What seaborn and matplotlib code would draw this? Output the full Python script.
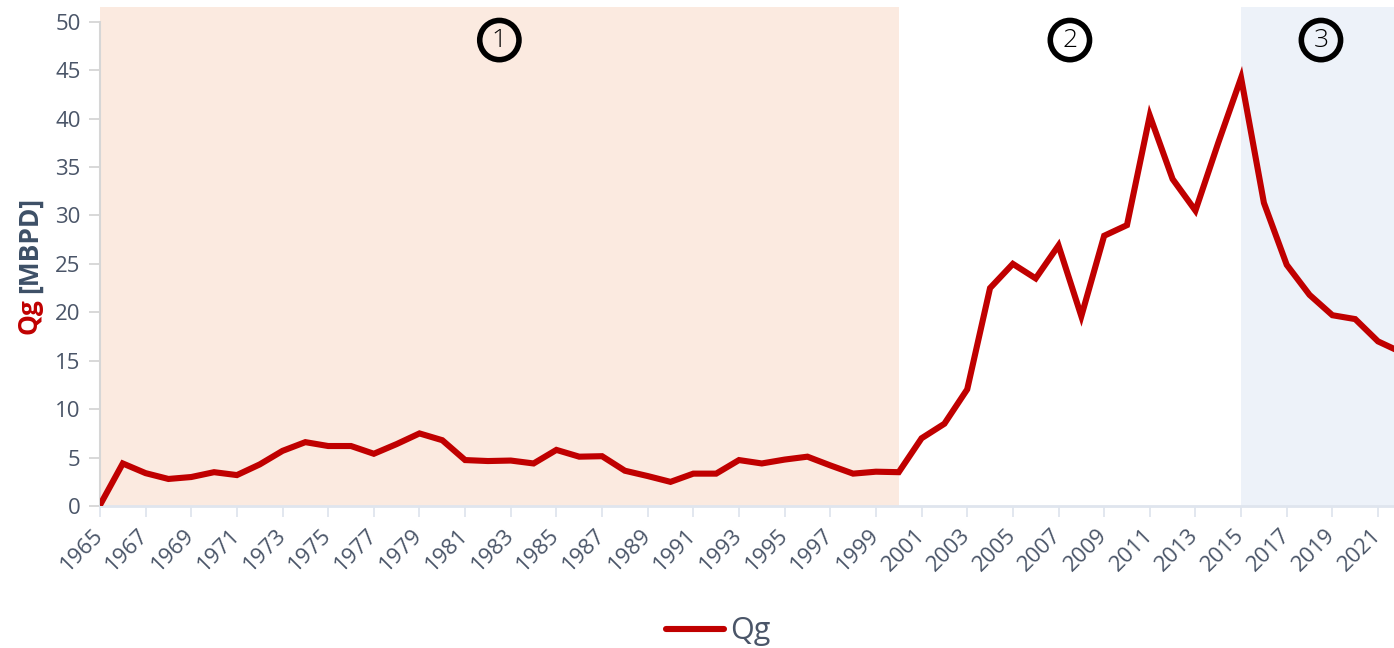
import matplotlib
matplotlib.use("Agg")
import matplotlib.pyplot as plt
import pandas as pd
import seaborn as sns

years = list(range(1965, 2023))
qg = [
    0.1, 4.4, 3.4, 2.8, 3.0, 3.5, 3.2, 4.3, 5.7, 6.6,
    6.2, 6.2, 5.4, 6.4, 7.5, 6.8, 4.75, 4.65, 4.7, 4.4,
    5.8, 5.1, 5.15, 3.65, 3.1, 2.5, 3.35, 3.35, 4.75, 4.4,
    4.8, 5.1, 4.2, 3.35, 3.55, 3.5, 7.0, 8.5, 12.05, 22.5,
    25.0, 23.5, 26.9, 19.6, 27.9, 29.0, 40.3, 33.75, 30.5, 37.5,
    44.2, 31.3, 24.9, 21.8, 19.7, 19.3, 17.0, 15.9,
]
phase_labels = ["1", "2", "3"]
phase_start = [1965, 2000, 2015]
phase_end = [2000, 2015, 2022]
phase_colors = ["#fbeae0", "white", "#edf2f9"]

df = pd.DataFrame({"year": years, "Qg": qg})

RED = "#c00000"
SLATE = "#4a5568"
LABEL = "#3d4f66"

sns.set_style("white")
plt.rcParams["font.family"] = ["Open Sans", "DejaVu Sans"]

fig = plt.figure(figsize=(13.94, 6.48), dpi=100)
ax = fig.add_axes([0.0717, 0.219, 0.9283, 0.770])

for start, end, color in zip(phase_start, phase_end, phase_colors):
    ax.axvspan(start, end + (1 if end == phase_end[-1] else 0), color=color, lw=0, zorder=0)

sns.lineplot(data=df, x="year", y="Qg", ax=ax, color=RED, linewidth=4.4,
             label="Qg", zorder=3)
ax.lines[0].set_solid_joinstyle("miter")

for lab, start, end in zip(phase_labels, phase_start, phase_end):
    ax.text((start + end) / 2, 48.1, lab, ha="center", va="center",
            fontsize=19, color="black", fontweight="light",
            bbox=dict(boxstyle="circle,pad=0.27", fc="none", ec="black", lw=4.0),
            zorder=4)

ax.set_xlim(1965, 2021.7)
ax.set_ylim(0, 51.5)
ax.set_yticks(range(0, 51, 5))
ax.set_xticks(range(1965, 2022, 2))
ax.set_xticklabels([str(y) for y in range(1965, 2022, 2)], rotation=45,
                   ha="right", va="center", rotation_mode="anchor")

ax.tick_params(axis="y", colors="#d6d6d6", labelcolor=SLATE, labelsize=16,
               length=8, width=1.3, pad=6, left=True)
ax.tick_params(axis="x", colors="#dfe5ee", labelcolor=SLATE, labelsize=16,
               length=8, width=1.3, pad=11, bottom=True)

for side in ["top", "right"]:
    ax.spines[side].set_visible(False)
ax.spines["left"].set_color("#d6d6d6")
ax.spines["left"].set_linewidth(1.5)
ax.spines["left"].set_bounds(0, 50)
ax.spines["bottom"].set_color("#dfe5ee")
ax.spines["bottom"].set_linewidth(2)

ax.set_xlabel("")
ax.set_ylabel("")

# two-colour y axis title
t1 = fig.text(0.021, 0.484, "Qg", rotation=90, color=RED, fontsize=19,
              fontweight="bold", ha="center", va="bottom")
ax.annotate("[MBPD]", xy=(0.5, 1), xycoords=t1, xytext=(0, 4),
            textcoords="offset points", rotation=90, color=LABEL,
            fontsize=19, fontweight="bold", ha="center", va="bottom",
            annotation_clip=False)

ax.get_legend().remove()
leg = fig.legend(*ax.get_legend_handles_labels(), loc="lower center",
                 bbox_to_anchor=(0.515, -0.04), frameon=False, fontsize=22,
                 handlelength=1.9, handletextpad=0.2)
for t in leg.get_texts():
    t.set_color(SLATE)

fig.savefig("out.png", dpi=100)
